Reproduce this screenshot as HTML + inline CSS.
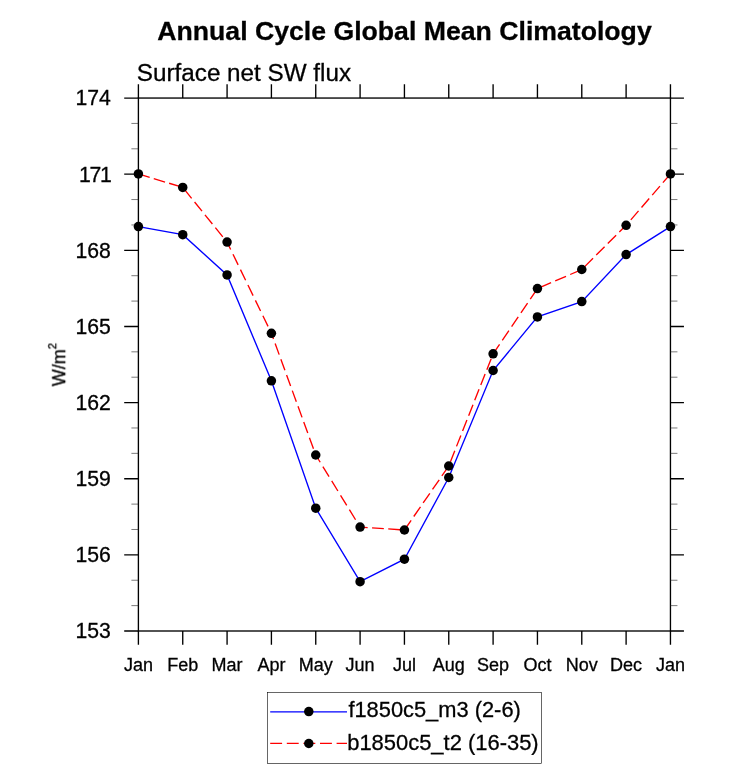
<!DOCTYPE html>
<html><head><meta charset="utf-8"><title>Annual Cycle Global Mean Climatology</title>
<style>html,body{margin:0;padding:0;background:#fff}body{width:733px;height:784px;overflow:hidden}</style></head>
<body>
<svg width="733" height="784" viewBox="0 0 733 784" style="display:block">
<rect width="733" height="784" fill="#fff"/>
<g stroke="#000" stroke-width="1.35" fill="none" stroke-linecap="butt">
<rect x="138.4" y="98.05" width="532.0500000000001" height="532.95"/>
<path d="M124.20 631.00H138.4M670.45 631.00H683.95"/>
<path d="M124.20 554.86H138.4M670.45 554.86H683.95"/>
<path d="M124.20 478.73H138.4M670.45 478.73H683.95"/>
<path d="M124.20 402.59H138.4M670.45 402.59H683.95"/>
<path d="M124.20 326.46H138.4M670.45 326.46H683.95"/>
<path d="M124.20 250.32H138.4M670.45 250.32H683.95"/>
<path d="M124.20 174.19H138.4M670.45 174.19H683.95"/>
<path d="M124.20 98.05H138.4M670.45 98.05H683.95"/>
<path d="M138.40 84.25V98.05M138.40 631.0V644.8"/>
<path d="M182.74 84.25V98.05M182.74 631.0V644.8"/>
<path d="M227.08 84.25V98.05M227.08 631.0V644.8"/>
<path d="M271.41 84.25V98.05M271.41 631.0V644.8"/>
<path d="M315.75 84.25V98.05M315.75 631.0V644.8"/>
<path d="M360.09 84.25V98.05M360.09 631.0V644.8"/>
<path d="M404.43 84.25V98.05M404.43 631.0V644.8"/>
<path d="M448.76 84.25V98.05M448.76 631.0V644.8"/>
<path d="M493.10 84.25V98.05M493.10 631.0V644.8"/>
<path d="M537.44 84.25V98.05M537.44 631.0V644.8"/>
<path d="M581.78 84.25V98.05M581.78 631.0V644.8"/>
<path d="M626.11 84.25V98.05M626.11 631.0V644.8"/>
<path d="M670.45 84.25V98.05M670.45 631.0V644.8"/>
</g>
<g stroke="#222" stroke-width="0.6" fill="none">
<path d="M131.4 605.62H138.4M670.45 605.62H677.45"/>
<path d="M131.4 580.24H138.4M670.45 580.24H677.45"/>
<path d="M131.4 529.49H138.4M670.45 529.49H677.45"/>
<path d="M131.4 504.11H138.4M670.45 504.11H677.45"/>
<path d="M131.4 453.35H138.4M670.45 453.35H677.45"/>
<path d="M131.4 427.97H138.4M670.45 427.97H677.45"/>
<path d="M131.4 377.21H138.4M670.45 377.21H677.45"/>
<path d="M131.4 351.84H138.4M670.45 351.84H677.45"/>
<path d="M131.4 301.08H138.4M670.45 301.08H677.45"/>
<path d="M131.4 275.70H138.4M670.45 275.70H677.45"/>
<path d="M131.4 224.94H138.4M670.45 224.94H677.45"/>
<path d="M131.4 199.56H138.4M670.45 199.56H677.45"/>
<path d="M131.4 148.81H138.4M670.45 148.81H677.45"/>
<path d="M131.4 123.43H138.4M670.45 123.43H677.45"/>
</g>
<g fill="none" stroke="#ff0000" stroke-width="1.35">
<path d="M138.40 173.95L182.74 187.40" stroke-dasharray="11.8 4.25" stroke-dashoffset="0.00"/>
<path d="M182.74 187.40L227.08 242.10" stroke-dasharray="11.8 4.70" stroke-dashoffset="14.20"/>
<path d="M227.08 242.10L271.41 333.30" stroke-dasharray="11.8 5.30" stroke-dashoffset="3.60"/>
<path d="M271.41 333.30L315.75 455.00" stroke-dasharray="11.8 4.90" stroke-dashoffset="5.80"/>
<path d="M315.75 455.00L360.09 527.10" stroke-dasharray="11.8 5.07" stroke-dashoffset="3.27"/>
<path d="M360.09 527.10L404.43 530.00" stroke-dasharray="11.8 4.40" stroke-dashoffset="4.20"/>
<path d="M404.43 530.00L448.76 466.00" stroke-dasharray="11.8 4.63" stroke-dashoffset="0.00"/>
<path d="M448.76 466.00L493.10 353.80" stroke-dasharray="11.8 4.70" stroke-dashoffset="11.90"/>
<path d="M493.10 353.80L537.44 288.60" stroke-dasharray="11.8 4.80" stroke-dashoffset="0.30"/>
<path d="M537.44 288.60L581.78 269.50" stroke-dasharray="11.8 4.50" stroke-dashoffset="13.25"/>
<path d="M581.78 269.50L626.11 225.30" stroke-dasharray="11.8 4.50" stroke-dashoffset="12.20"/>
<path d="M626.11 225.30L670.45 173.95" stroke-dasharray="11.8 4.57" stroke-dashoffset="9.17"/>
</g>
<polyline points="138.40,226.60 182.74,234.70 227.08,274.90 271.41,380.80 315.75,508.20 360.09,581.70 404.43,559.20 448.76,477.50 493.10,370.50 537.44,316.90 581.78,301.60 626.11,254.60 670.45,226.60" fill="none" stroke="#0000ff" stroke-width="1.35"/>
<g fill="#000">
<circle cx="138.40" cy="173.95" r="4.75"/>
<circle cx="182.74" cy="187.40" r="4.75"/>
<circle cx="227.08" cy="242.10" r="4.75"/>
<circle cx="271.41" cy="333.30" r="4.75"/>
<circle cx="315.75" cy="455.00" r="4.75"/>
<circle cx="360.09" cy="527.10" r="4.75"/>
<circle cx="404.43" cy="530.00" r="4.75"/>
<circle cx="448.76" cy="466.00" r="4.75"/>
<circle cx="493.10" cy="353.80" r="4.75"/>
<circle cx="537.44" cy="288.60" r="4.75"/>
<circle cx="581.78" cy="269.50" r="4.75"/>
<circle cx="626.11" cy="225.30" r="4.75"/>
<circle cx="670.45" cy="173.95" r="4.75"/>
<circle cx="138.40" cy="226.60" r="4.75"/>
<circle cx="182.74" cy="234.70" r="4.75"/>
<circle cx="227.08" cy="274.90" r="4.75"/>
<circle cx="271.41" cy="380.80" r="4.75"/>
<circle cx="315.75" cy="508.20" r="4.75"/>
<circle cx="360.09" cy="581.70" r="4.75"/>
<circle cx="404.43" cy="559.20" r="4.75"/>
<circle cx="448.76" cy="477.50" r="4.75"/>
<circle cx="493.10" cy="370.50" r="4.75"/>
<circle cx="537.44" cy="316.90" r="4.75"/>
<circle cx="581.78" cy="301.60" r="4.75"/>
<circle cx="626.11" cy="254.60" r="4.75"/>
<circle cx="670.45" cy="226.60" r="4.75"/>
</g>
<rect x="267.5" y="692.5" width="274" height="70.9" fill="#fff" stroke="#000" stroke-width="0.6"/>
<path d="M270.2 711.8H347" stroke="#0000ff" stroke-width="1.35"/>
<path d="M270.2 743.4H347" stroke="#ff0000" stroke-width="1.35" stroke-dasharray="11.9 4.7"/>
<circle cx="308.8" cy="711.6" r="4.75"/><circle cx="308.8" cy="743.5" r="4.75"/>
<g font-family="'Liberation Sans', sans-serif" fill="#000" stroke="#000" stroke-width="0.3" style="opacity:0.999">
<text id="title" x="404.5" y="40.1" font-size="26.65" font-weight="bold" text-anchor="middle">Annual Cycle Global Mean Climatology</text>
<text id="sub" x="136.8" y="81.4" font-size="24.25">Surface net SW flux</text>
<text class="yl" x="110.9" y="638.40" font-size="21.2" text-anchor="end">153</text>
<text class="yl" x="110.9" y="562.26" font-size="21.2" text-anchor="end">156</text>
<text class="yl" x="110.9" y="486.13" font-size="21.2" text-anchor="end">159</text>
<text class="yl" x="110.9" y="409.99" font-size="21.2" text-anchor="end">162</text>
<text class="yl" x="110.9" y="333.86" font-size="21.2" text-anchor="end">165</text>
<text class="yl" x="110.9" y="257.72" font-size="21.2" text-anchor="end">168</text>
<text class="yl" x="110.6" y="181.59" font-size="21.2" text-anchor="end" letter-spacing="-1.25">171</text>
<text class="yl" x="110.9" y="105.45" font-size="21.2" text-anchor="end">174</text>
<text class="xl" x="138.40" y="671.2" font-size="18" text-anchor="middle">Jan</text>
<text class="xl" x="182.74" y="671.2" font-size="18" text-anchor="middle">Feb</text>
<text class="xl" x="227.08" y="671.2" font-size="18" text-anchor="middle">Mar</text>
<text class="xl" x="271.41" y="671.2" font-size="18" text-anchor="middle">Apr</text>
<text class="xl" x="315.75" y="671.2" font-size="18" text-anchor="middle">May</text>
<text class="xl" x="360.09" y="671.2" font-size="18" text-anchor="middle">Jun</text>
<text class="xl" x="404.43" y="671.2" font-size="18" text-anchor="middle">Jul</text>
<text class="xl" x="448.76" y="671.2" font-size="18" text-anchor="middle">Aug</text>
<text class="xl" x="493.10" y="671.2" font-size="18" text-anchor="middle">Sep</text>
<text class="xl" x="537.44" y="671.2" font-size="18" text-anchor="middle">Oct</text>
<text class="xl" x="581.78" y="671.2" font-size="18" text-anchor="middle">Nov</text>
<text class="xl" x="626.11" y="671.2" font-size="18" text-anchor="middle">Dec</text>
<text class="xl" x="670.45" y="671.2" font-size="18" text-anchor="middle">Jan</text>
<text id="ylab" transform="translate(65.2 364.5) rotate(-90)" font-size="18" text-anchor="middle">W/m<tspan font-size="11.3" dy="-8.6">2</tspan></text>
<text id="l1" x="348.4" y="716.8" font-size="21.85">f1850c5_m3 (2-6)</text>
<text id="l2" x="347.2" y="749.7" font-size="21.95">b1850c5_t2 (16-35)</text>
</g>
</svg>
</body></html>
